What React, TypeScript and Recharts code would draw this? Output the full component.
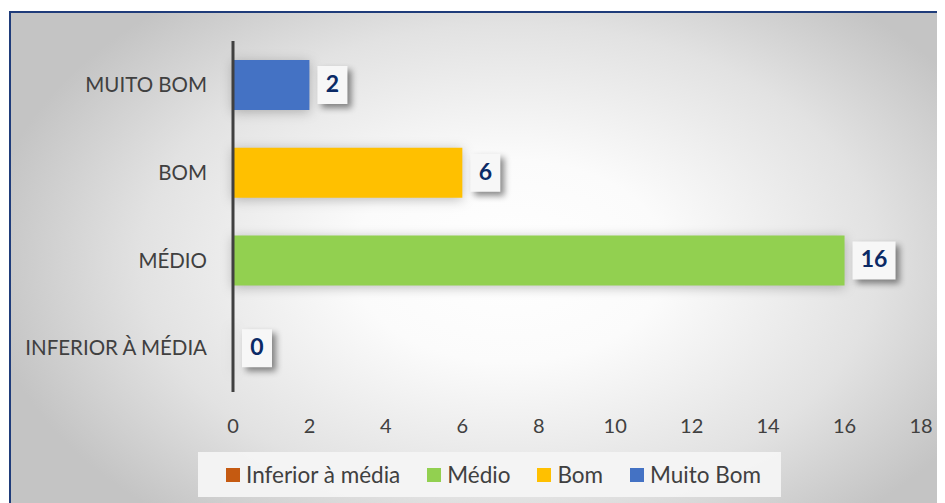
import { BarChart, Bar, XAxis, YAxis, Legend, Cell, LabelList } from 'recharts'

const categories = ['INFERIOR À MÉDIA', 'MÉDIO', 'BOM', 'MUITO BOM']
const seriesNames = ['Inferior à média', 'Médio', 'Bom', 'Muito Bom']
const values = [0, 16, 6, 2]
const xTicks = [0, 2, 4, 6, 8, 10, 12, 14, 16, 18]
const colors = ['#C55A11', '#92D050', '#FFC000', '#4472C4']

const data = categories.map((c, i) => ({ category: c, value: values[i] }))

const FONT = 'Lato, "Open Sans", sans-serif'

function ValueBox(props: any) {
  const { x, y, width, height, value } = props
  const s = String(value)
  const w = 17 + s.length * 13
  const bx = x + width + 8
  const by = y + height / 2 - 19
  return (
    <g>
      <rect
        x={bx}
        y={by}
        width={w}
        height={38}
        fill="#f7f7f7"
        style={{ filter: 'drop-shadow(4px 4px 3px rgba(0,0,0,0.45))' }}
      />
      <text
        x={bx + w / 2}
        y={by + 20}
        textAnchor="middle"
        dominantBaseline="middle"
        fill="#0b2a66"
        fontWeight={700}
        fontSize={23}
        fontFamily={FONT}
      >
        {s}
      </text>
    </g>
  )
}

function LegendBox() {
  return (
    <div
      style={{
        display: 'flex',
        alignItems: 'center',
        gap: 27,
        height: 45,
        boxSizing: 'border-box',
        padding: '0 20px 0 28px',
        background: 'rgba(244,244,244,0.95)',
        fontFamily: FONT,
        fontSize: 22.5,
        color: '#404040',
        width: 'fit-content',
      }}
    >
      {seriesNames.map((n, i) => (
        <span key={n} style={{ display: 'flex', alignItems: 'center', gap: 6 }}>
          <span style={{ width: 14, height: 14, background: colors[i], display: 'inline-block' }} />
          {n}
        </span>
      ))}
    </div>
  )
}

export default function App() {
  return (
    <div
      style={{
        position: 'relative',
        marginTop: 3,
        marginLeft: 1,
        width: 945,
        height: 500,
        boxSizing: 'border-box',
        border: '2px solid #1f3c7a',
        background:
          'radial-gradient(ellipse 56% 68% at 53% 50%, #ffffff 0%, #fbfbfb 30%, #e2e2e2 70%, #c4c4c4 100%)',
      }}
    >
      <BarChart
        width={943}
        height={490}
        layout="vertical"
        data={data}
        barSize={50}
        margin={{ top: 28, right: 33, left: 0, bottom: 36 }}
      >
        <XAxis
          type="number"
          domain={[0, 18]}
          ticks={xTicks}
          axisLine={false}
          tickLine={false}
          tickMargin={21}
          tick={{ fill: '#404040', fontSize: 20, fontFamily: FONT }}
        />
        <YAxis
          type="category"
          dataKey="category"
          reversed
          width={222}
          axisLine={{ stroke: '#404040', strokeWidth: 3 }}
          tickLine={false}
          tickMargin={20}
          tick={{ fill: '#404040', fontSize: 20.5, fontFamily: FONT }}
        />
        <Legend
          verticalAlign="bottom"
          content={() => <LegendBox />}
          wrapperStyle={{ position: 'absolute', left: 187, top: 439, bottom: 'auto', width: 'auto' }}
        />
        <Bar
          dataKey="value"
          minPointSize={1}
          isAnimationActive={false}
          style={{ filter: 'drop-shadow(0px 2px 6px rgba(0,0,0,0.25))' }}
        >
          {data.map((d, i) => (
            <Cell key={d.category} fill={colors[i]} />
          ))}
          <LabelList dataKey="value" content={ValueBox} />
        </Bar>
      </BarChart>
    </div>
  )
}
